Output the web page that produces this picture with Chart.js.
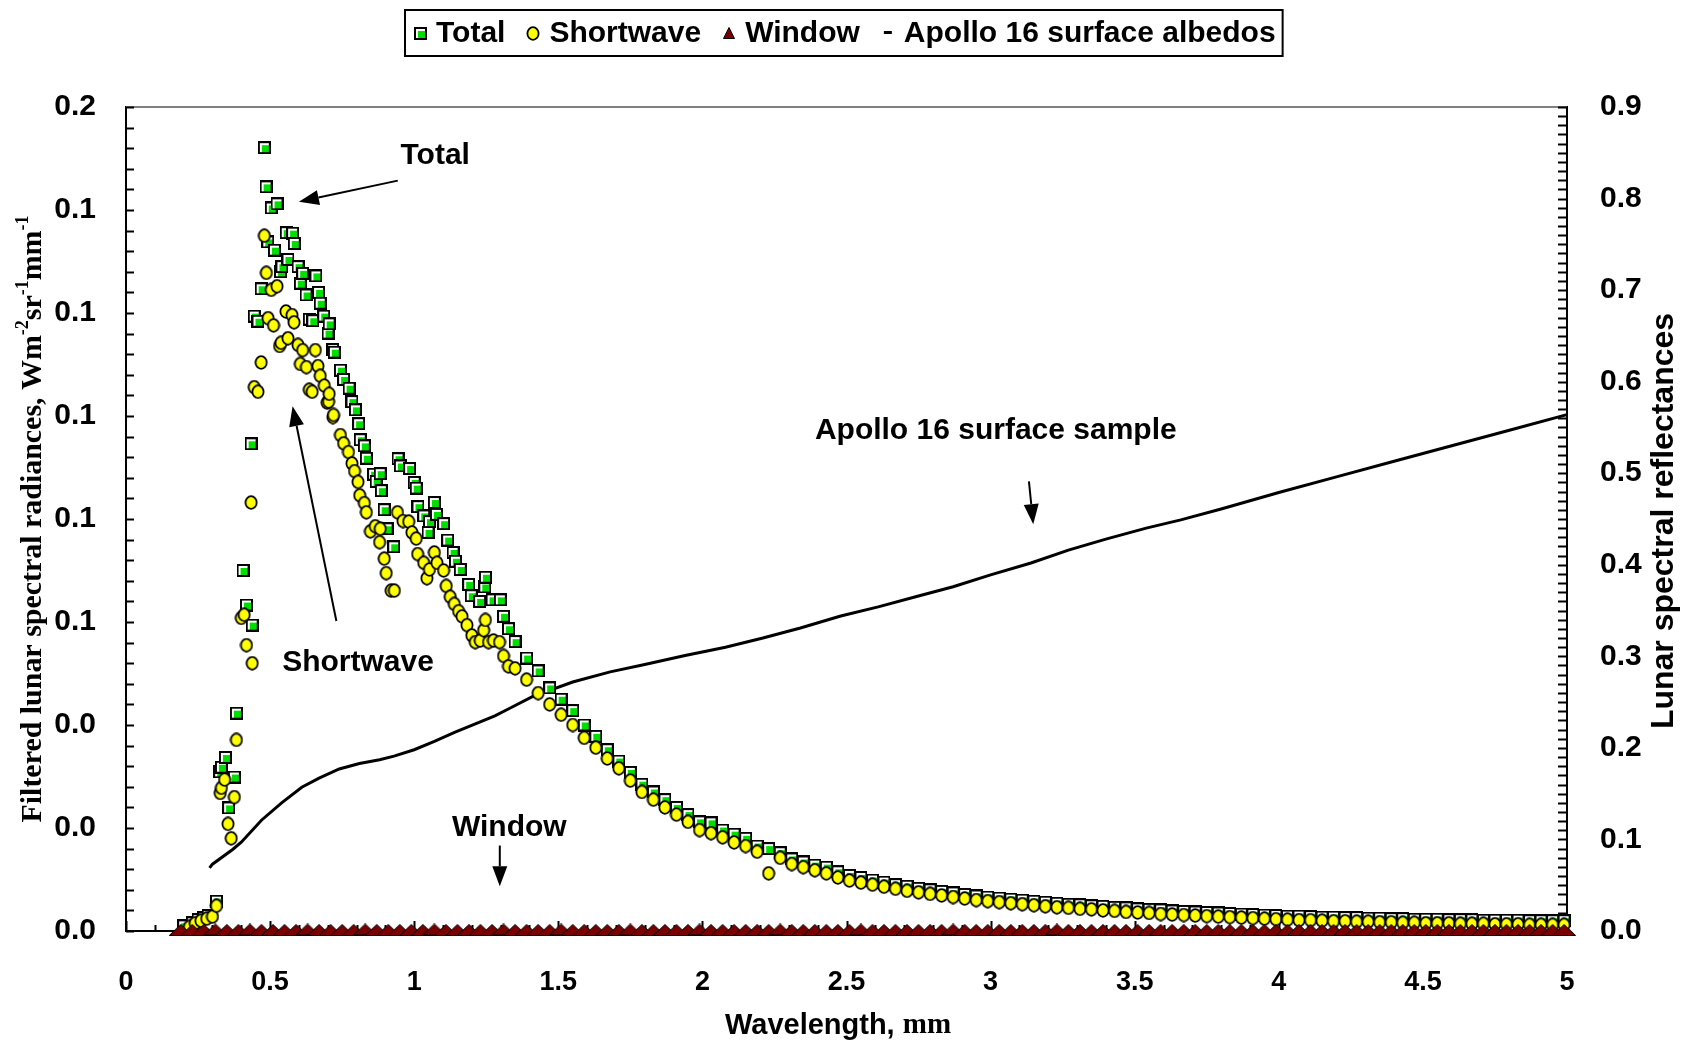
<!DOCTYPE html>
<html>
<head>
<meta charset="utf-8">
<title>Filtered lunar spectral radiances</title>
<script src="https://cdn.jsdelivr.net/npm/chart.js@4.4.1/dist/chart.umd.min.js"></script>
<style>
  html, body { margin: 0; padding: 0; background: #fff; }
  canvas { display: block; }
</style>
</head>
<body>
<canvas id="lunar" width="1684" height="1044" style="width:1684px;height:1044px"></canvas>
<script>
/* DATA
 * radiances on the left axis (0 - 0.16 shown with 1 decimal)
 * albedos on the right axis (0 - 0.9)
 */

// peak region, total (green squares)
const peakWlTotal = [0.20, 0.23, 0.25, 0.27, 0.285, 0.314, 0.325, 0.331, 0.345, 0.356,
  0.376, 0.383, 0.406, 0.418, 0.434, 0.438, 0.445, 0.458, 0.469, 0.480,
  0.486, 0.492, 0.504, 0.515, 0.524, 0.536, 0.541, 0.556, 0.562, 0.578,
  0.584, 0.597, 0.605, 0.613, 0.625, 0.636, 0.648, 0.659, 0.668, 0.674,
  0.686, 0.701, 0.705, 0.717, 0.723, 0.744, 0.755, 0.774, 0.784, 0.796,
  0.807, 0.813, 0.827, 0.834, 0.859, 0.868, 0.882, 0.886, 0.896, 0.906,
  0.929, 0.944, 0.952, 0.984, 1.000, 1.007, 1.013, 1.033, 1.048, 1.053,
  1.070, 1.077, 1.102, 1.116, 1.135, 1.143, 1.160, 1.189, 1.198, 1.227,
  1.245, 1.247, 1.270, 1.299, 1.310, 1.327];
const peakTotal = [0.0010, 0.0016, 0.0022, 0.0026, 0.0030, 0.0058, 0.0309, 0.0318, 0.0337, 0.0239,
  0.0299, 0.0423, 0.0700, 0.0633, 0.0946, 0.0594, 0.1194, 0.1184, 0.1247, 0.1521,
  0.1445, 0.1338, 0.1404, 0.1322, 0.1412, 0.1280, 0.1290, 0.1356, 0.1304, 0.1355,
  0.1335, 0.1290, 0.1258, 0.1277, 0.1235, 0.1188, 0.1185, 0.1272, 0.1240, 0.1219,
  0.1194, 0.1161, 0.1179, 0.1129, 0.1124, 0.1089, 0.1071, 0.1054, 0.1028, 0.1012,
  0.0985, 0.0954, 0.0942, 0.0918, 0.0887, 0.0873, 0.0888, 0.0855, 0.0818, 0.0781,
  0.0746, 0.0917, 0.0903, 0.0898, 0.0871, 0.0860, 0.0824, 0.0806, 0.0774, 0.0795,
  0.0832, 0.0809, 0.0791, 0.0759, 0.0735, 0.0718, 0.0702, 0.0673, 0.0651, 0.0640,
  0.0668, 0.0687, 0.0643, 0.0643, 0.0611, 0.0587];

// peak region, shortwave (yellow circles)
const peakWlShort = [0.22, 0.24, 0.26, 0.28, 0.30, 0.314, 0.327, 0.331, 0.342, 0.354,
  0.365, 0.376, 0.383, 0.400, 0.410, 0.418, 0.434, 0.438, 0.445, 0.458,
  0.469, 0.480, 0.487, 0.493, 0.504, 0.512, 0.524, 0.533, 0.538, 0.555,
  0.562, 0.576, 0.583, 0.597, 0.605, 0.613, 0.626, 0.636, 0.646, 0.657,
  0.666, 0.674, 0.688, 0.698, 0.703, 0.705, 0.718, 0.720, 0.744, 0.755,
  0.772, 0.784, 0.793, 0.805, 0.811, 0.827, 0.834, 0.848, 0.865, 0.880,
  0.882, 0.896, 0.903, 0.920, 0.931, 0.942, 0.961, 0.981, 0.992, 1.007,
  1.012, 1.033, 1.044, 1.053, 1.070, 1.079, 1.102, 1.111, 1.125, 1.139,
  1.154, 1.166, 1.183, 1.200, 1.212, 1.229, 1.241, 1.247, 1.258, 1.275,
  1.296, 1.310, 1.327];
const peakShort = [0.0008, 0.0015, 0.0020, 0.0024, 0.0028, 0.0049, 0.0268, 0.0278, 0.0294, 0.0208,
  0.0180, 0.0260, 0.0371, 0.0608, 0.0614, 0.0555, 0.0832, 0.0520, 0.1056, 0.1047,
  0.1104, 0.1350, 0.1278, 0.1190, 0.1245, 0.1176, 0.1252, 0.1136, 0.1142, 0.1203,
  0.1151, 0.1196, 0.1182, 0.1138, 0.1101, 0.1128, 0.1095, 0.1051, 0.1047, 0.1128,
  0.1097, 0.1078, 0.1059, 0.1026, 0.1028, 0.1043, 0.0998, 0.1002, 0.0963, 0.0947,
  0.0930, 0.0908, 0.0893, 0.0872, 0.0846, 0.0831, 0.0813, 0.0776, 0.0786, 0.0755,
  0.0781, 0.0723, 0.0695, 0.0661, 0.0661, 0.0813, 0.0796, 0.0795, 0.0774, 0.0762,
  0.0732, 0.0715, 0.0685, 0.0702, 0.0735, 0.0715, 0.0700, 0.0670, 0.0649, 0.0635,
  0.0621, 0.0611, 0.0594, 0.0574, 0.0561, 0.0564, 0.0584, 0.0604, 0.0561, 0.0564,
  0.0561, 0.0534, 0.0514];

// long tail, same wavelengths for total and shortwave
const tailWl = [1.35, 1.39, 1.43, 1.47, 1.51, 1.55, 1.59, 1.63, 1.67, 1.71,
  1.75, 1.79, 1.83, 1.87, 1.91, 1.95, 1.99, 2.03, 2.07, 2.11,
  2.15, 2.19, 2.23, 2.27, 2.31, 2.35, 2.39, 2.43, 2.47, 2.51,
  2.55, 2.59, 2.63, 2.67, 2.71, 2.75, 2.79, 2.83, 2.87, 2.91,
  2.95, 2.99, 3.03, 3.07, 3.11, 3.15, 3.19, 3.23, 3.27, 3.31,
  3.35, 3.39, 3.43, 3.47, 3.51, 3.55, 3.59, 3.63, 3.67, 3.71,
  3.75, 3.79, 3.83, 3.87, 3.91, 3.95, 3.99, 4.03, 4.07, 4.11,
  4.15, 4.19, 4.23, 4.27, 4.31, 4.35, 4.39, 4.43, 4.47, 4.51,
  4.55, 4.59, 4.63, 4.67, 4.71, 4.75, 4.79, 4.83, 4.87, 4.91,
  4.95, 4.99];
const tailTotal = [0.0562, 0.0530, 0.0505, 0.0472, 0.0450, 0.0428, 0.0400, 0.0378, 0.0352, 0.0330,
  0.0308, 0.0285, 0.0270, 0.0255, 0.0240, 0.0226, 0.0212, 0.0210, 0.0196, 0.0188,
  0.0180, 0.0165, 0.0160, 0.0152, 0.0140, 0.0134, 0.0128, 0.0124, 0.0115, 0.0108,
  0.0104, 0.0099, 0.0095, 0.0090, 0.0087, 0.0083, 0.0080, 0.0077, 0.0074, 0.0071,
  0.0068, 0.0066, 0.0064, 0.0062, 0.0060, 0.0058, 0.0056, 0.0054, 0.0052, 0.0051,
  0.0049, 0.0048, 0.0046, 0.0045, 0.0043, 0.0042, 0.0041, 0.0039, 0.0038, 0.0037,
  0.0036, 0.0035, 0.0034, 0.0033, 0.0032, 0.0031, 0.0030, 0.0029, 0.0029, 0.0028,
  0.0027, 0.0027, 0.0026, 0.0026, 0.0025, 0.0025, 0.0024, 0.0024, 0.0023, 0.0023,
  0.0023, 0.0022, 0.0022, 0.0022, 0.0021, 0.0021, 0.0021, 0.0021, 0.0020, 0.0020,
  0.0020, 0.0020];
const tailShort = [0.0510, 0.0488, 0.0462, 0.0440, 0.0420, 0.0400, 0.0375, 0.0356, 0.0335, 0.0316,
  0.0292, 0.0270, 0.0255, 0.0240, 0.0226, 0.0212, 0.0196, 0.0190, 0.0182, 0.0172,
  0.0165, 0.0154, 0.0112, 0.0142, 0.0130, 0.0124, 0.0118, 0.0112, 0.0104, 0.0098,
  0.0094, 0.0090, 0.0086, 0.0082, 0.0078, 0.0075, 0.0072, 0.0069, 0.0066, 0.0063,
  0.0060, 0.0058, 0.0056, 0.0054, 0.0052, 0.0050, 0.0048, 0.0046, 0.0045, 0.0043,
  0.0042, 0.0040, 0.0039, 0.0037, 0.0036, 0.0035, 0.0033, 0.0032, 0.0031, 0.0030,
  0.0029, 0.0028, 0.0027, 0.0026, 0.0025, 0.0024, 0.0023, 0.0022, 0.0021, 0.0021,
  0.0020, 0.0019, 0.0019, 0.0018, 0.0018, 0.0017, 0.0017, 0.0016, 0.0016, 0.0015,
  0.0015, 0.0015, 0.0014, 0.0014, 0.0014, 0.0013, 0.0013, 0.0013, 0.0012, 0.0012,
  0.0012, 0.0012];

// window channel: flat at ~0 over the whole range
const bandWl = [0.19, 0.23, 0.27, 0.31, 0.35, 0.39, 0.43, 0.47, 0.51, 0.55,
  0.59, 0.63, 0.67, 0.71, 0.75, 0.79, 0.83, 0.87, 0.91, 0.95,
  0.99, 1.03, 1.07, 1.11, 1.15, 1.19, 1.23, 1.27, 1.31];
const windowRad = [
  0.0002, 0.0002, 0.0002, 0.0003, 0.0002, 0.0002, 0.0003, 0.0002, 0.0002, 0.0002,
  0.0002, 0.0003, 0.0002, 0.0002, 0.0002, 0.0002, 0.0003, 0.0002, 0.0002, 0.0002,
  0.0002, 0.0002, 0.0003, 0.0002, 0.0002, 0.0002, 0.0002, 0.0002, 0.0003, 0.0002,
  0.0002, 0.0002, 0.0002, 0.0003, 0.0002, 0.0002, 0.0002, 0.0002, 0.0002, 0.0003,
  0.0002, 0.0002, 0.0002, 0.0002, 0.0002, 0.0003, 0.0002, 0.0002, 0.0002, 0.0002,
  0.0002, 0.0002, 0.0003, 0.0002, 0.0002, 0.0002, 0.0002, 0.0002, 0.0002, 0.0003,
  0.0002, 0.0002, 0.0002, 0.0002, 0.0002, 0.0002, 0.0002, 0.0003, 0.0002, 0.0002,
  0.0002, 0.0002, 0.0002, 0.0002, 0.0002, 0.0002, 0.0003, 0.0002, 0.0002, 0.0002,
  0.0002, 0.0002, 0.0002, 0.0002, 0.0002, 0.0002, 0.0002, 0.0002, 0.0002, 0.0002,
  0.0002, 0.0002, 0.0002, 0.0002, 0.0002, 0.0002, 0.0002, 0.0002, 0.0002, 0.0002,
  0.0002, 0.0002, 0.0002, 0.0002, 0.0002, 0.0002, 0.0002, 0.0002, 0.0002, 0.0002,
  0.0002, 0.0002, 0.0002, 0.0002, 0.0002, 0.0002, 0.0002, 0.0002, 0.0002, 0.0002,
  0.0002];

// Apollo 16 surface albedos (right axis)
const albedoWl = [0.29, 0.30, 0.37, 0.40, 0.47, 0.54, 0.61, 0.67, 0.74, 0.81,
  0.88, 0.93, 1.00, 1.07, 1.14, 1.21, 1.28, 1.33, 1.41, 1.55,
  1.68, 1.80, 1.94, 2.08, 2.21, 2.34, 2.48, 2.61, 2.74, 2.87,
  3.00, 3.14, 3.27, 3.40, 3.54, 3.66, 3.80, 4.00, 4.20, 4.40,
  4.60, 4.80, 5.00];
const albedo = [0.069, 0.073, 0.089, 0.097, 0.121, 0.140, 0.157, 0.167, 0.177, 0.183,
  0.187, 0.191, 0.198, 0.207, 0.217, 0.226, 0.235, 0.243, 0.256, 0.272,
  0.283, 0.291, 0.301, 0.310, 0.320, 0.331, 0.344, 0.354, 0.365, 0.376,
  0.389, 0.402, 0.416, 0.428, 0.440, 0.449, 0.461, 0.479, 0.496, 0.513,
  0.530, 0.547, 0.564];

// text labels put on the plot, in data units (wavelength, left axis value)
const notes = [
  {text: 'Total', x: 1.073, y: 0.1505, from: [0.943, 0.1457], to: [0.600, 0.1416]},
  {text: 'Shortwave', x: 0.805, y: 0.0521, from: [0.730, 0.0602], to: [0.578, 0.1019]},
  {text: 'Apollo 16 surface sample', x: 3.018, y: 0.0971, from: [3.133, 0.0873], to: [3.148, 0.0790]},
  {text: 'Window', x: 1.330, y: 0.0200, from: [1.297, 0.0166], to: [1.297, 0.0087]}
];

const SANS = '"Liberation Sans", Arial, sans-serif';
const SERIF = '"Liberation Serif", "Times New Roman", serif';

let toPoints = (xs, ys) => xs.map((x, i) => ({x: x, y: ys[i]}));

/** MARKERS - small canvases used as point styles */
let makeCanvas = (w, h) => {
    const c = document.createElement('canvas');
    c.width = w;
    c.height = h;
    return c;
}

const squareImg = makeCanvas(13, 13);
(() => {
    const g = squareImg.getContext('2d');
    g.fillStyle = '#000';
    g.fillRect(0, 0, 13, 13);
    g.fillStyle = '#fff';
    g.fillRect(2, 2, 9, 9);
    g.fillStyle = '#00e000';
    g.fillRect(4, 4, 7, 7);
})();

const circleImg = makeCanvas(14, 15);
(() => {
    const g = circleImg.getContext('2d');
    g.beginPath();
    g.ellipse(7, 7.5, 5.6, 6.3, 0, 0, Math.PI * 2);
    g.fillStyle = '#ffff00';
    g.fill();
    g.lineWidth = 1.8;
    g.strokeStyle = '#000';
    g.stroke();
})();

// window triangles are wide so that they overlap into a band, like the original
const triImg = makeCanvas(24, 12);
(() => {
    const g = triImg.getContext('2d');
    g.beginPath();
    g.moveTo(12, 0.5);
    g.lineTo(23.5, 11.5);
    g.lineTo(0.5, 11.5);
    g.closePath();
    g.fillStyle = '#7a0000';
    g.fill();
    g.lineWidth = 1;
    g.strokeStyle = '#000';
    g.stroke();
})();

// the same triangle at legend size
const triLegend = makeCanvas(12, 12);
(() => {
    const g = triLegend.getContext('2d');
    g.beginPath();
    g.moveTo(6, 0.5);
    g.lineTo(11.5, 11.5);
    g.lineTo(0.5, 11.5);
    g.closePath();
    g.fillStyle = '#7a0000';
    g.fill();
    g.lineWidth = 1;
    g.strokeStyle = '#000';
    g.stroke();
})();

/** DECORATION - inner ticks, grey top frame, notes, axis titles, legend */
let arrow = (ctx, x1, y1, x2, y2) => {
    const a = Math.atan2(y2 - y1, x2 - x1);
    const len = 20, half = 7.5;
    const bx = x2 - len * Math.cos(a), by = y2 - len * Math.sin(a);
    ctx.beginPath();
    ctx.moveTo(x1, y1);
    ctx.lineTo(bx, by);
    ctx.lineWidth = 2;
    ctx.stroke();
    ctx.beginPath();
    ctx.moveTo(x2, y2);
    ctx.lineTo(bx + half * Math.sin(a), by - half * Math.cos(a));
    ctx.lineTo(bx - half * Math.sin(a), by + half * Math.cos(a));
    ctx.closePath();
    ctx.fill();
}

const decor = {
    id: 'decor',
    beforeDatasetsDraw(chart) {
        const {ctx, chartArea: a, scales} = chart;
        ctx.save();
        ctx.strokeStyle = '#808080';
        ctx.lineWidth = 2;
        ctx.beginPath();
        ctx.moveTo(a.left, a.top);
        ctx.lineTo(a.right, a.top);
        ctx.stroke();

        ctx.strokeStyle = '#000';
        ctx.lineWidth = 2;
        ctx.beginPath();
        for (let i = 0; i <= 40; i++) {
            const y = Math.round(scales.y.getPixelForValue(i * 0.004)) + 0.5;
            ctx.moveTo(a.left, y);
            ctx.lineTo(a.left + 8, y);
        }
        for (let i = 0; i <= 90; i++) {
            const y = Math.round(scales.y1.getPixelForValue(i * 0.01)) + 0.5;
            ctx.moveTo(a.right, y);
            ctx.lineTo(a.right - 9, y);
        }
        for (let i = 0; i <= 50; i++) {
            const x = Math.round(scales.x.getPixelForValue(i * 0.1)) + 0.5;
            ctx.moveTo(x, a.bottom);
            ctx.lineTo(x, a.bottom - (i % 5 === 0 ? 10 : 6));
        }
        ctx.stroke();
        ctx.restore();
    },
    afterDraw(chart) {
        const {ctx, scales} = chart;
        const px = v => scales.x.getPixelForValue(v);
        const py = v => scales.y.getPixelForValue(v);
        ctx.save();
        ctx.fillStyle = '#000';
        ctx.strokeStyle = '#000';

        // notes with arrows
        ctx.font = 'bold 30px ' + SANS;
        ctx.textAlign = 'center';
        ctx.textBaseline = 'middle';
        notes.forEach(n => {
            ctx.fillText(n.text, px(n.x), py(n.y));
            arrow(ctx, px(n.from[0]), py(n.from[1]), px(n.to[0]), py(n.to[1]));
        });

        // x title
        const xa = 'Wavelength, ';
        ctx.font = 'bold 29px ' + SANS;
        const w1 = ctx.measureText(xa).width;
        ctx.font = 'bold 29px ' + SERIF;
        const w2 = ctx.measureText('mm').width;
        let sx = 838 - (w1 + w2) / 2;
        ctx.textAlign = 'left';
        ctx.font = 'bold 29px ' + SANS;
        ctx.fillText(xa, sx, 1026);
        ctx.font = 'bold 29px ' + SERIF;
        ctx.fillText('mm', sx + w1, 1026);

        // left title, with superscripts
        const parts = [
            ['Filtered lunar spectral radiances, Wm', false], ['-2', true],
            ['sr', false], ['-1', true], ['mm', false], ['-1', true]
        ];
        const fMain = 'bold 30px ' + SERIF, fSup = 'bold 18px ' + SERIF;
        let total = 0;
        parts.forEach(p => { ctx.font = p[1] ? fSup : fMain; total += ctx.measureText(p[0]).width; });
        ctx.save();
        ctx.translate(33, 519);
        ctx.rotate(-Math.PI / 2);
        ctx.scale(607 / total, 1);
        let cx = -total / 2;
        parts.forEach(p => {
            ctx.font = p[1] ? fSup : fMain;
            ctx.fillText(p[0], cx, p[1] ? -10 : 0);
            cx += ctx.measureText(p[0]).width;
        });
        ctx.restore();

        // right title
        ctx.save();
        ctx.translate(1664, 521);
        ctx.rotate(-Math.PI / 2);
        ctx.textAlign = 'center';
        ctx.font = 'bold 32px ' + SANS;
        ctx.fillText('Lunar spectral reflectances', 0, 0);
        ctx.restore();

        // legend in a box
        ctx.font = 'bold 30px ' + SANS;
        ctx.textAlign = 'left';
        const items = chart.data.datasets.map(d => ({label: d.label, mark: d.legendMark}));
        const widths = items.map(it => ctx.measureText(it.label).width);
        const boxW = 15 + widths.reduce((s, w) => s + 16 + w, 0) + 28 * (items.length - 1) + 7;
        const boxL = Math.round(844 - boxW / 2), boxT = 10, boxH = 46, midY = 33;
        ctx.lineWidth = 2;
        ctx.strokeRect(boxL, boxT, boxW, boxH);
        let lx = boxL + 15;
        items.forEach((it, i) => {
            if (it.mark) {
                ctx.drawImage(it.mark, Math.round(lx - it.mark.width / 2), Math.round(midY - it.mark.height / 2));
            } else {
                ctx.fillRect(lx - 4, midY - 2, 8, 3);
            }
            ctx.fillText(it.label, lx + 16, midY + 1);
            lx += 16 + widths[i] + 28;
        });
        ctx.restore();
    }
};

/** GRAPH */
Chart.defaults.font.family = SANS;
Chart.defaults.color = '#000';

const config = {
    type: 'scatter',
    data: {
        datasets: [
            {
                label: 'Total',
                data: toPoints(peakWlTotal.concat(tailWl), peakTotal.concat(tailTotal)),
                pointStyle: squareImg,
                legendMark: squareImg,
                pointRadius: 6,
                yAxisID: 'y',
                order: 2,
                clip: false
            },
            {
                label: 'Shortwave',
                data: toPoints(peakWlShort.concat(tailWl), peakShort.concat(tailShort)),
                pointStyle: circleImg,
                legendMark: circleImg,
                pointRadius: 6,
                yAxisID: 'y',
                order: 1,
                clip: false
            },
            {
                label: 'Window',
                data: toPoints(bandWl.concat(tailWl), windowRad),
                pointStyle: triImg,
                legendMark: triLegend,
                pointRadius: 6,
                yAxisID: 'y',
                order: 0,
                clip: false
            },
            {
                label: 'Apollo 16 surface albedos',
                type: 'line',
                data: toPoints(albedoWl, albedo),
                borderColor: '#000',
                borderWidth: 3,
                pointRadius: 0,
                tension: 0,
                yAxisID: 'y1',
                order: 3,
                clip: false
            }
        ]
    },
    options: {
        responsive: false,
        animation: false,
        devicePixelRatio: 1,
        events: [],
        layout: {padding: {top: 107, left: 0, right: 0, bottom: 0}},
        plugins: {legend: {display: false}, tooltip: {enabled: false}},
        scales: {
            x: {
                type: 'linear', min: 0, max: 5,
                grid: {display: false},
                border: {color: '#000', width: 2},
                ticks: {stepSize: 0.5, padding: 27, font: {size: 27, weight: 'bold'},
                    callback: v => String(Number(v.toFixed(2)))},
                afterFit: s => { s.height = 113; }
            },
            y: {
                position: 'left', min: 0, max: 0.16,
                grid: {display: false},
                border: {color: '#000', width: 2},
                ticks: {stepSize: 0.02, padding: 22, font: {size: 30, weight: 'bold'}, callback: v => v.toFixed(1)},
                afterFit: s => { s.width = 126; }
            },
            y1: {
                position: 'right', min: 0, max: 0.9,
                grid: {display: false},
                border: {color: '#000', width: 2},
                ticks: {stepSize: 0.1, padding: 25, font: {size: 30, weight: 'bold'}, callback: v => v.toFixed(1)},
                afterFit: s => { s.width = 117; }
            }
        }
    },
    plugins: [decor]
};

const graph = new Chart(document.getElementById('lunar'), config);
</script>
</body>
</html>
